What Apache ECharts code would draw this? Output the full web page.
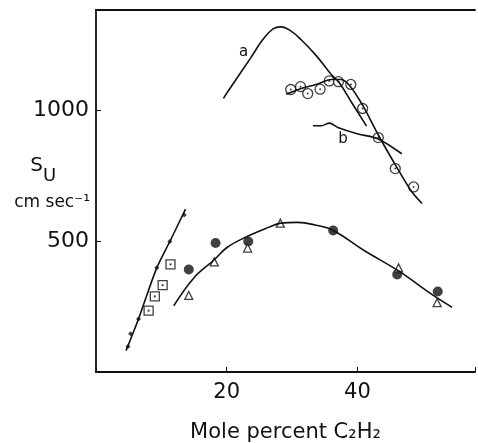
<!DOCTYPE html>
<html lang="en">
  <head>
    <meta charset="UTF-8" />
    <title>Su vs mole percent C2H2</title>
    <script src="https://cdn.jsdelivr.net/npm/echarts@6/dist/echarts.min.js"></script>
    <style>
      html, body { margin: 0; padding: 0; background: #fff; }
      #chart { width: 478px; height: 443px; }
    </style>
  </head>
  <body>
    <div id="chart"></div>
  </body>
</html>
<script>
  // mole percent C2H2 (x) and burning velocity Su in cm/sec (y, log axis)
  const curveA = [[19.5, 1065], [20.6, 1128], [23.7, 1321], [25.5, 1452], [27.1, 1538], [28.3, 1555], [29.8, 1522], [31.4, 1452], [33.7, 1335], [36.0, 1208], [37.2, 1158], [39.1, 1043], [41.4, 919]];
  const curveB = [[33.2, 921], [34.5, 921], [35.7, 934], [37.0, 913], [40.1, 882], [43.2, 859], [46.8, 794]];
  const openCircles = [[29.8, 1116], [31.3, 1133], [32.4, 1092], [34.3, 1118], [35.7, 1168], [37.1, 1163], [39.0, 1146], [40.8, 1009], [43.2, 865], [45.8, 734], [48.6, 666]];
  const circleFit = [[29.1, 1088], [31.4, 1122], [33.7, 1146], [36.0, 1177], [37.5, 1177], [38.8, 1140], [40.8, 1027], [43.2, 877], [45.9, 745], [48.3, 650], [49.9, 610]];
  const steepFit = [[4.6, 280], [6.5, 331], [9.3, 434], [11.3, 499], [13.7, 592]];
  const steepPoints = [[4.9, 286], [5.3, 306], [6.5, 331], [9.3, 434], [11.3, 499], [13.5, 574]];
  const squares = [[8.05, 346], [9.0, 373], [10.2, 396], [11.4, 442]];
  const filledCircles = [[14.2, 430], [18.3, 495], [23.3, 499], [36.3, 529], [46.1, 419], [52.3, 383]];
  const triangles = [[14.2, 375], [18.1, 448], [23.2, 482], [28.2, 550], [46.3, 434], [52.2, 361]];
  const lowerCurve = [[11.9, 355], [15.0, 412], [18.1, 453], [20.1, 484], [23.2, 513], [26.3, 537], [28.3, 550], [30.9, 552], [33.4, 545], [36.3, 529], [41.1, 475], [46.3, 427], [51.4, 377], [54.5, 352]];
  const curveTags = ["a", "b"];
  const curveTagPos = [[22.6, 1363], [37.8, 859]];
  const yTicks = [500, 1000];
  const xTicks = [20, 40];

  const ink = "#111";
  const font = "DejaVu Sans";

  const chart = echarts.init(document.getElementById("chart"));

  const lineSeries = (data, smooth) => ({
    type: "line",
    data: data,
    smooth: smooth,
    showSymbol: false,
    symbol: "none",
    lineStyle: { color: ink, width: 1.6 },
  });
  const openMarks = (data, symbol, size) => ({
    type: "scatter",
    data: data,
    symbol: symbol,
    symbolSize: size,
    itemStyle: { color: "#fff", borderColor: ink, borderWidth: 1.3 },
  });
  const dots = (data, symbol, size) => ({
    type: "scatter",
    data: data,
    symbol: symbol,
    symbolSize: size,
    itemStyle: { color: ink },
  });

  let option = {
    animation: false,
    backgroundColor: "#fff",
    grid: { left: 96, right: 3, top: 10, bottom: 71, containLabel: false, outerBoundsMode: "none" },
    xAxis: [
      {
        type: "value",
        min: 0,
        max: 58,
        interval: 20,
        name: "Mole percent C₂H₂",
        nameLocation: "middle",
        nameGap: 50,
        nameMoveOverlap: false,
        nameTextStyle: { fontFamily: font, fontSize: 21, color: ink },
        axisLine: { lineStyle: { color: ink, width: 1.8 } },
        axisTick: { inside: true, length: 5, lineStyle: { color: ink } },
        axisLabel: {
          fontFamily: font,
          fontSize: 21,
          color: ink,
          margin: 10,
          formatter: (v) => (xTicks.includes(v) ? String(v) : ""),
        },
        splitLine: { show: false },
      },
      {
        type: "value",
        position: "top",
        min: 0,
        max: 58,
        axisLine: { show: true, lineStyle: { color: ink, width: 1.8 } },
        axisTick: { show: false },
        axisLabel: { show: false },
        splitLine: { show: false },
      },
    ],
    yAxis: {
      type: "log",
      logBase: 10,
      min: 250,
      max: 1700,
      name: "{s|S}{u|U}\n{c|cm sec⁻¹}",
      nameLocation: "middle",
      nameRotate: 0,
      nameGap: 6,
      nameMoveOverlap: false,
      nameTextStyle: {
        fontFamily: font,
        color: ink,
        padding: [0, 0, 28, 0],
        rich: {
          s: { fontFamily: font, fontSize: 20, color: ink, align: "left", padding: [0, 0, 0, 16], lineHeight: 52 },
          u: { fontFamily: font, fontSize: 18, color: ink, align: "left", padding: [20, 0, 0, 0], lineHeight: 52 },
          c: { fontFamily: font, fontSize: 17, color: ink, align: "left", lineHeight: 22 },
        },
      },
      axisLine: { show: true, lineStyle: { color: ink, width: 1.8 } },
      axisTick: { inside: true, length: 5, customValues: yTicks, lineStyle: { color: ink } },
      axisLabel: {
        fontFamily: font,
        fontSize: 22,
        color: ink,
        margin: 7,
        customValues: yTicks,
        formatter: (v) => String(Math.round(v)),
      },
      splitLine: { show: false },
      minorTick: { show: false },
    },
    series: [
      lineSeries(curveA, 0.4),
      lineSeries(curveB, 0.3),
      lineSeries(circleFit, 0.3),
      lineSeries(steepFit, 0.3),
      lineSeries(lowerCurve, 0.4),
      dots(steepPoints, "diamond", 5),
      openMarks(squares, "rect", 9),
      dots(squares, "rect", 2),
      openMarks(openCircles, "circle", 10),
      dots(openCircles, "circle", 2),
      dots(filledCircles, "circle", 10),
      openMarks(triangles, "triangle", 8),
      {
        type: "scatter",
        data: curveTagPos.map((p, i) => ({ name: curveTags[i], value: p })),
        symbolSize: 1,
        itemStyle: { color: "#fff" },
        label: {
          show: true,
          position: "inside",
          formatter: "{b}",
          fontFamily: font,
          fontSize: 15,
          color: ink,
          opacity: 1,
        },
      },
    ],
  };
  chart.setOption(option);
</script>
